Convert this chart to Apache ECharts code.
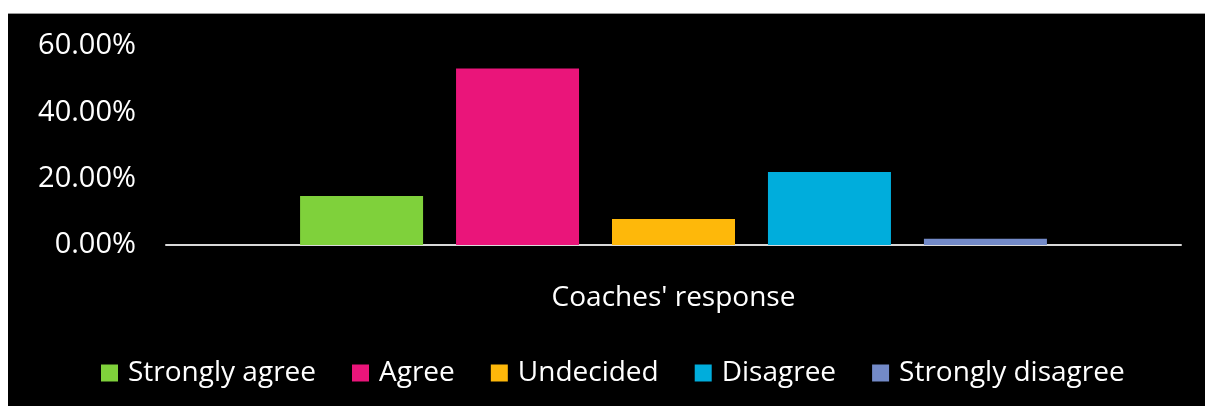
<!DOCTYPE html>
<html>
<head>
<meta charset="utf-8">
<script src="https://cdn.jsdelivr.net/npm/echarts@6/dist/echarts.min.js"></script>
<style>
  html, body { margin: 0; padding: 0; background: #ffffff; width: 1205px; height: 406px; overflow: hidden; }
  #chart { position: absolute; left: 8px; top: 13px; width: 1197px; height: 393px; background: #000000; border-top: 1px solid #9a9a9a; box-sizing: border-box; }
</style>
</head>
<body>
<div id="chart"></div>
<script>
// Survey answers, share of coaches per option (percent)
const categories = ["Coaches' response"];
const responses = ['Strongly agree', 'Agree', 'Undecided', 'Disagree', 'Strongly disagree'];
const shares = [14.75, 53.2, 7.85, 22.0, 1.85];
const colors = ['#7fd13b', '#ea157a', '#feb80a', '#00addc', '#738ac8'];
const yTicks = { min: 0, max: 60, interval: 20 };

const font = '"Open Sans", "Noto Sans", sans-serif';
const chart = echarts.init(document.getElementById('chart'), null, { renderer: 'canvas' });

chart.setOption({
  backgroundColor: 'transparent',
  animation: false,
  grid: { left: 158, right: 24, top: 32, bottom: 161, containLabel: false },
  legend: {
    data: responses,
    bottom: 14,
    left: 88,
    itemWidth: 17,
    itemHeight: 17,
    itemGap: 36,
    icon: 'rect',
    textStyle: { color: '#ffffff', fontSize: 28, fontFamily: font, padding: [0, 0, 0, 5] }
  },
  xAxis: {
    type: 'category',
    data: categories,
    axisLine: { show: true, lineStyle: { color: '#d9d9d9', width: 2 } },
    axisTick: { show: false },
    axisLabel: { color: '#ffffff', fontSize: 28, fontFamily: font, margin: 39 },
    splitLine: { show: false }
  },
  yAxis: {
    type: 'value',
    min: yTicks.min,
    max: yTicks.max,
    interval: yTicks.interval,
    axisLine: { show: false },
    axisTick: { show: false },
    splitLine: { show: false },
    axisLabel: {
      color: '#ffffff', fontSize: 29, fontFamily: font, margin: 30,
      formatter: v => v.toFixed(2) + '%'
    }
  },
  series: responses.map((name, i) => ({
    name: name,
    type: 'bar',
    data: [shares[i]],
    barWidth: 123,
    barGap: '26.8%',
    itemStyle: { color: colors[i] }
  }))
});
</script>
</body>
</html>
